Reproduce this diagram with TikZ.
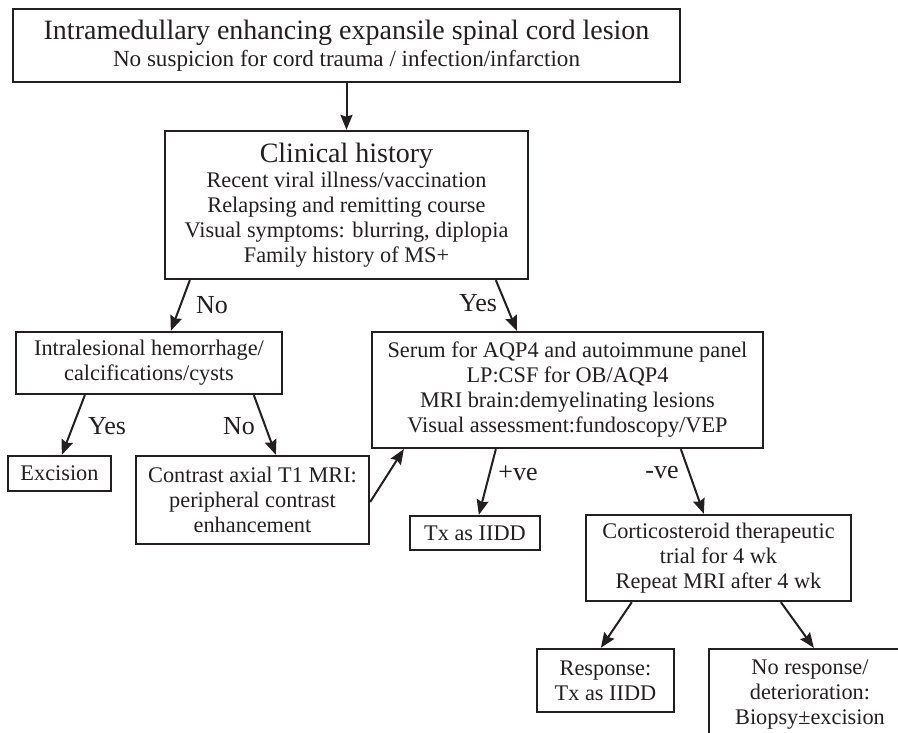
\documentclass[tikz,border=0pt]{standalone}
\usepackage{fontspec}
\setmainfont{Liberation Serif}
\usetikzlibrary{arrows.meta,calc}
\definecolor{ink}{RGB}{35,31,32}
\begin{document}
\begin{tikzpicture}[x=1pt,y=-1pt,
  box/.style={draw=ink, line width=2.3pt, text=ink, align=center, inner sep=0pt,
    font=\fontsize{22.3}{25}\selectfont},
  arr/.style={draw=ink, line width=2pt, -{Stealth[length=15pt,width=12pt,inset=2pt]}},
  lab/.style={text=ink, inner sep=0pt, font=\fontsize{26}{30}\selectfont}]
\useasboundingbox (0,0) rectangle (898,733);
\clip (0,0) rectangle (898,733);
\fill[white] (0,0) rectangle (898,733);

\node[box, minimum width=667pt, minimum height=73pt, font=\fontsize{23.1}{25}\selectfont] (top) at (346.5,45.5)
  {{\fontsize{28}{25}\selectfont Intramedullary enhancing expansile spinal cord lesion}\\[2pt]
   No suspicion for cord trauma / infection/infarction};
\node[box, minimum width=363pt, minimum height=148pt] (clin) at (346.5,205)
  {{\fontsize{28}{26}\selectfont Clinical history}\\
   Recent viral illness/vaccination\\
   Relapsing and remitting course\\
   Visual symptoms: blurring, diplopia\\
   Family history of MS+};
\node[box, minimum width=266pt, minimum height=62pt] (intra) at (149,363)
  {Intralesional hemorrhage/\\calcifications/cysts};
\node[box, minimum width=391pt, minimum height=116pt] (serum) at (567.5,390)
  {Serum for AQP4 and autoimmune panel\\
   LP:CSF for OB/AQP4\\
   MRI brain:demyelinating lesions\\
   Visual assessment:fundoscopy/VEP};
\node[box, minimum width=103pt, minimum height=35pt] (exc) at (59.5,473.5) {Excision};
\node[box, minimum width=233pt, minimum height=88pt] (con) at (252.5,500)
  {Contrast axial T1 MRI:\\peripheral contrast\\enhancement};
\node[box, minimum width=130pt, minimum height=34pt] (txa) at (475,533) {Tx as IIDD};
\node[box, minimum width=265pt, minimum height=86pt] (cort) at (718.5,558)
  {Corticosteroid therapeutic\\trial for 4 wk\\Repeat MRI after 4 wk};
\node[box, minimum width=137pt, minimum height=63pt] (resp) at (605.5,680.5)
  {Response:\\Tx as IIDD};
\node[box, minimum width=202pt, minimum height=92pt] (nresp) at (810,695)
  {No response/\\deterioration:\\Biopsy±excision};

\draw[arr] (top.south) -- (clin.north);
\draw[arr] ([xshift=26pt]clin.south west) -- ([xshift=156pt]intra.north west);
\draw[arr] ([xshift=332pt]clin.south west) -- ([xshift=146pt]serum.north west);
\draw[arr] ([xshift=70pt]intra.south west) -- ([xshift=55pt]exc.north west);
\draw[arr] ([xshift=239pt]intra.south west) -- ([xshift=141pt]con.north west);
\draw[arr] ([yshift=-2pt]con.east) -- ([xshift=33pt]serum.south west);
\draw[arr] ([xshift=125pt]serum.south west) -- ([xshift=70pt]txa.north west);
\draw[arr] ([xshift=310pt]serum.south west) -- ([xshift=119pt]cort.north west);
\draw[arr] ([xshift=47pt]cort.south west) -- ([xshift=65pt]resp.north west);
\draw[arr] ([xshift=196pt]cort.south west) -- ([xshift=106pt]nresp.north west);

\node[lab] (l1) at (212,305) {No};
\node[lab] (l2) at (478,303) {Yes};
\node[lab] (l3) at (107,426) {Yes};
\node[lab] (l4) at (239,426) {No};
\node[lab] (l5) at (518,473) {+ve};
\node[lab] (l6) at (662,473) {-ve};
\end{tikzpicture}
\end{document}
